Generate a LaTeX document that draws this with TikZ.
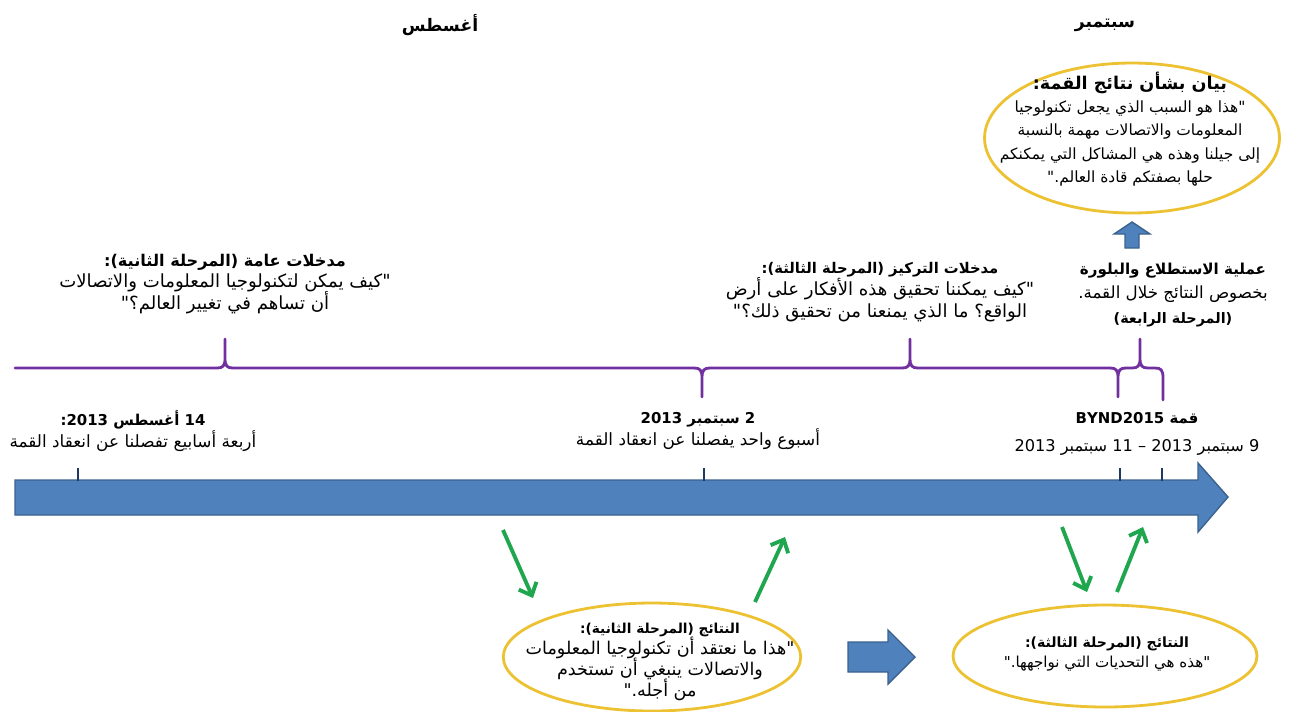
\documentclass[tikz,border=0pt]{standalone}
\usepackage{fontspec}
\usetikzlibrary{shapes.geometric,arrows.meta}
\newfontfamily\arabicfont[Script=Arabic]{DejaVu Sans}
\TeXXeTstate=1
\newcommand{\rl}[1]{\beginR #1\endR}
\newcommand{\nb}[1]{\beginL #1\endL{}}
\newcommand{\hdf}[1]{\fontsize{#1}{#1}\selectfont\bfseries}
\definecolor{barblue}{HTML}{4F81BD}
\definecolor{tickblue}{HTML}{1F3864}
\definecolor{phasepurple}{HTML}{7030A0}
\definecolor{bubbleyellow}{HTML}{EDC232}
\definecolor{turngreen}{HTML}{1FA64E}
\begin{document}
\begin{tikzpicture}[x=0.02cm,y=-0.02cm,
  month/.style={font=\arabicfont\bfseries\fontsize{9.8}{12}\selectfont},
  lbl/.style={font=\arabicfont\fontsize{10.3}{12}\selectfont, align=center, inner sep=0pt,
    execute at begin node={\lineskiplimit=-20pt}},
  bubble/.style={ellipse, draw=bubbleyellow, line width=1.6pt, inner sep=0pt},
  brace/.style={draw=phasepurple, line width=1.6pt, line cap=round, line join=round},
  tick/.style={draw=tickblue, line width=1.6pt},
  blockarrow/.style={fill=barblue, draw=barblue!75!black, line width=0.8pt},
  turn/.style={draw=turngreen, line width=2.2pt, -{Straight Barb[length=6pt,width=11pt]}}]
\useasboundingbox (0,0) rectangle (1300,711);

% months
\node[month] (aug) at (440,25) {\rl{أغسطس}};
\node[month] (sep) at (1105,25) {\rl{سبتمبر}};

% summit statement
\node[bubble, minimum width=5.9cm, minimum height=3cm] (statement) at (1132,138) {};
\node[lbl, font=\arabicfont\fontsize{8.8}{13.2}\selectfont] (statementText) at (1130,129)
  {{\hdf{10}\rl{بيان بشأن نتائج القمة:}}\\
   \rl{"هذا هو السبب الذي يجعل تكنولوجيا}\\
   \rl{المعلومات والاتصالات مهمة بالنسبة}\\
   \rl{إلى جيلنا وهذه هي المشاكل التي يمكنكم}\\
   \rl{حلها بصفتكم قادة العالم."}};
\fill[blockarrow] (1132,222) -- (1150,234) -- (1139,234) -- (1139,248)
  -- (1125,248) -- (1125,234) -- (1114,234) -- cycle;

% phase labels
\node[lbl] (inGeneral) at (225,284)
  {{\hdf{9.2}\rl{مدخلات عامة (المرحلة الثانية):}}\\
   \rl{"كيف يمكن لتكنولوجيا المعلومات والاتصالات}\\
   \rl{أن تساهم في تغيير العالم؟"}};
\node[lbl, font=\arabicfont\fontsize{10.3}{12.4}\selectfont] (inFocus) at (880,292)
  {{\hdf{8.4}\rl{مدخلات التركيز (المرحلة الثالثة):}}\\
   \rl{"كيف يمكننا تحقيق هذه الأفكار على أرض}\\
   \rl{الواقع؟ ما الذي يمنعنا من تحقيق ذلك؟"}};
\node[lbl, font=\arabicfont\fontsize{9.5}{14}\selectfont] (survey) at (1173,295)
  {{\hdf{8.6}\rl{عملية الاستطلاع والبلورة}}\\
   \rl{بخصوص النتائج خلال القمة.}\\
   {\hdf{8.2}\rl{(المرحلة الرابعة)}}};

% phase brace
\draw[brace] (15,368)
  foreach \x/\d in {225/-1,702/1,910/-1,1118/1,1140/-1} {
    -- (\x-8,368) .. controls (\x-2,368) and (\x,368+2*\d) .. (\x,368+10*\d) -- (\x,368+29*\d)
    (\x,368+10*\d) .. controls (\x,368+2*\d) and (\x+2,368) .. (\x+8,368)
  } -- (1155,368) .. controls (1161,368) and (1163,370) .. (1163,378) -- (1163,400);

% dates
\node[lbl, font=\arabicfont\fontsize{9.6}{12.5}\selectfont] (aug14) at (133,431)
  {{\hdf{8.5}\rl{\nb{14} أغسطس \nb{2013}:}}\\
   \rl{أربعة أسابيع تفصلنا عن انعقاد القمة}};
\node[lbl, font=\arabicfont\fontsize{9.6}{12.5}\selectfont] (sep2) at (698,431)
  {{\hdf{8.5}\rl{\nb{2} سبتمبر \nb{2013}}}\\
   \rl{أسبوع واحد يفصلنا عن انعقاد القمة}};
\node[lbl, font=\arabicfont\fontsize{9.2}{15.5}\selectfont] (bynd) at (1137,434)
  {{\hdf{8.5}\rl{قمة \nb{BYND2015}}}\\
   \rl{\nb{9} سبتمبر \nb{2013} – \nb{11} سبتمبر \nb{2013}}};

% time bar
\fill[blockarrow] (15,480) -- (1198,480) -- (1198,463) -- (1228,497)
  -- (1198,532) -- (1198,515) -- (15,515) -- cycle;
\foreach \x in {78,704,1120,1162} {
  \draw[tick] (\x,468) -- (\x,481);
}

% results
\node[bubble, minimum width=5.95cm, minimum height=2.16cm] (res2) at (652,657) {};
\node[lbl, font=\arabicfont\fontsize{10}{12}\selectfont] (res2Text) at (660,662)
  {{\hdf{7.8}\rl{النتائج (المرحلة الثانية):}}\\
   \rl{"هذا ما نعتقد أن تكنولوجيا المعلومات}\\
   \rl{والاتصالات ينبغي أن تستخدم}\\
   \rl{من أجله."}};
\node[bubble, minimum width=6.08cm, minimum height=2.04cm] (res3) at (1105,656) {};
\node[lbl, font=\arabicfont\fontsize{8.6}{11.3}\selectfont] (res3Text) at (1107,654)
  {{\hdf{8}\rl{النتائج (المرحلة الثالثة):}}\\
   \rl{"هذه هي التحديات التي نواجهها."}};
\fill[blockarrow] (848,642) -- (888,642) -- (888,630) -- (915,657)
  -- (888,684) -- (888,672) -- (848,672) -- cycle;

% green turns
\coordinate (d1) at (503,530);
\coordinate (u1) at (785,537);
\coordinate (d2) at (1062,527);
\coordinate (u2) at (1143,527);
\draw[turn] (d1) -- (533,598);
\draw[turn] (755,602) -- (u1);
\draw[turn] (d2) -- (1087,592);
\draw[turn] (1117,592) -- (u2);
\end{tikzpicture}
\end{document}
